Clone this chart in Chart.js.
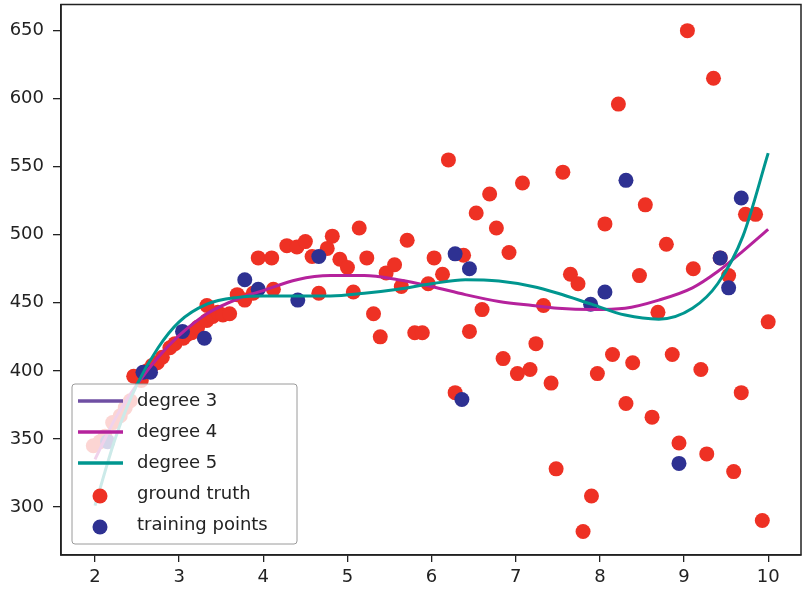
<!DOCTYPE html>
<html>
<head>
<meta charset="utf-8">
<script src="https://cdn.jsdelivr.net/npm/chart.js@4.4.1/dist/chart.umd.min.js"></script>
<style>
  body { margin: 0; background: #fff; }
  canvas { display: block; }
</style>
</head>
<body>
<canvas id="fitChart" width="804" height="592"></canvas>
<script>
// tick labels
const xTicks = [2, 3, 4, 5, 6, 7, 8, 9, 10];
const yTicks = [300, 350, 400, 450, 500, 550, 600, 650];

// ground truth (red)
const truthX = [1.98, 2.06, 2.12, 2.21, 2.3, 2.36, 2.42, 2.46, 2.55, 2.62, 2.68, 2.74, 2.8, 2.89, 2.95,
  3.05, 3.1, 3.15, 3.22, 3.33, 3.33, 3.4, 3.46, 3.52, 3.6, 3.69, 3.78, 3.88, 3.94, 4.1, 4.12, 4.28,
  4.4, 4.5, 4.58, 4.66, 4.76, 4.82, 4.91, 5.0, 5.07, 5.14, 5.23, 5.31, 5.39, 5.46, 5.56, 5.64, 5.71,
  5.8, 5.89, 5.96, 6.03, 6.13, 6.2, 6.28, 6.38, 6.45, 6.53, 6.6, 6.69, 6.77, 6.85, 6.92, 7.02, 7.08,
  7.17, 7.24, 7.33, 7.42, 7.48, 7.56, 7.65, 7.74, 7.8, 7.9, 7.97, 8.06, 8.15, 8.22, 8.31, 8.39, 8.47,
  8.54, 8.62, 8.69, 8.79, 8.86, 8.94, 9.04, 9.11, 9.2, 9.27, 9.35, 9.43, 9.53, 9.59, 9.68, 9.73, 9.85,
  9.93, 10.0];
const truthY = [345, 348, 352, 362, 367, 373, 378, 396, 393, 400, 404, 406, 410, 417, 420,
  424, 427, 428, 432, 437, 448, 440, 443, 441, 442, 456, 452, 457, 483, 483, 460, 492,
  491, 495, 484, 457, 490, 499, 482, 476, 458, 505, 483, 442, 425, 472, 478, 462, 496,
  428, 428, 464, 483, 471, 555, 384, 485, 429, 516, 445, 530, 505, 409, 487, 398, 538,
  401, 420, 448, 391, 328, 546, 471, 464, 282, 308, 398, 508, 412, 596, 376, 406, 470,
  522, 366, 443, 493, 412, 347, 650, 475, 401, 339, 615, 483, 470, 326, 384, 515, 515,
  290, 436];

// training points (blue)
const trainX = [2.15, 2.57, 2.66, 3.04, 3.3, 3.78, 3.94, 4.41, 4.66, 6.28, 6.36, 6.45, 7.89, 8.06, 8.31, 8.94, 9.43, 9.53, 9.68];
const trainY = [348, 399, 399, 429, 424, 467, 460, 452, 484, 486, 379, 475, 449, 458, 540, 332, 483, 461, 527];

// fitted curves
const curveX = [2.0, 2.25, 2.5, 2.75, 3.0, 3.33, 3.7, 4.0, 4.4, 4.8, 5.2, 5.6, 6.0, 6.4, 6.8, 7.2, 7.5, 7.9, 8.3, 8.7, 9.1, 9.4, 9.7, 10.0];
const deg3Y = []; // no purple curve is visible in the picture
const deg4Y = [335, 366, 390, 410, 426, 442, 453, 459, 467, 470, 470, 467, 462, 456, 451, 448, 446, 445, 446, 452, 461, 473, 488, 504];
const deg5Y = [301, 352, 390, 417, 436, 449, 454, 455, 455, 455, 457, 460, 464, 467, 466, 462, 457, 449, 441, 438, 446, 464, 499, 560];

const FONT = "'DejaVu Sans', sans-serif";
const INK = '#222';

function pts(xs, ys) {
  return ys.map((y, i) => ({ x: xs[i], y: y }));
}

// matplotlib style box + legend in lower left
const frameAndLegend = {
  id: 'frameAndLegend',
  afterDraw(chart) {
    const ctx = chart.ctx;
    const ca = chart.chartArea;
    ctx.save();
    ctx.strokeStyle = INK;
    ctx.lineWidth = 1.5;
    ctx.strokeRect(ca.left, ca.top, ca.right - ca.left, ca.bottom - ca.top);

    const w = 225, h = 160;
    const x0 = ca.left + 11, y0 = ca.bottom - 11 - h;
    ctx.beginPath();
    ctx.roundRect(x0, y0, w, h, 3);
    ctx.fillStyle = 'rgba(255,255,255,0.8)';
    ctx.fill();
    ctx.strokeStyle = '#9a9a9a';
    ctx.lineWidth = 1;
    ctx.stroke();

    ctx.font = '18px ' + FONT;
    ctx.textBaseline = 'middle';
    ctx.textAlign = 'left';
    chart.data.datasets.forEach((ds, i) => {
      const cy = y0 + 17 + i * 31;
      if (ds.showLine) {
        ctx.strokeStyle = ds.borderColor;
        ctx.lineWidth = 3.5;
        ctx.beginPath();
        ctx.moveTo(x0 + 6, cy);
        ctx.lineTo(x0 + 51, cy);
        ctx.stroke();
      } else {
        ctx.fillStyle = ds.backgroundColor;
        ctx.beginPath();
        ctx.arc(x0 + 28, cy + 2, 7.5, 0, Math.PI * 2);
        ctx.fill();
      }
      ctx.fillStyle = INK;
      ctx.fillText(ds.label, x0 + 65, cy);
    });
    ctx.restore();
  }
};

const lineStyle = { showLine: true, borderWidth: 3, pointRadius: 0, cubicInterpolationMode: 'monotone' };

new Chart(document.getElementById('fitChart'), {
  type: 'scatter',
  data: {
    datasets: [
      { ...lineStyle, label: 'degree 3', data: pts(curveX, deg3Y), borderColor: '#6f4fa3', order: 2 },
      { ...lineStyle, label: 'degree 4', data: pts(curveX, deg4Y), borderColor: '#b5229c', order: 1 },
      { ...lineStyle, label: 'degree 5', data: pts(curveX, deg5Y), borderColor: '#00968f', order: 0 },
      { label: 'ground truth', data: pts(truthX, truthY), showLine: false, backgroundColor: '#ee3124', borderWidth: 0, pointRadius: 7.5, order: 4 },
      { label: 'training points', data: pts(trainX, trainY), showLine: false, backgroundColor: '#2e3192', borderWidth: 0, pointRadius: 7.5, order: 3 }
    ]
  },
  options: {
    responsive: false,
    animation: false,
    layout: { autoPadding: false, padding: { left: 9, top: 4.5, right: 3, bottom: 0 } },
    plugins: {
      legend: { display: false },
      tooltip: { enabled: false }
    },
    scales: {
      x: {
        type: 'linear',
        min: 1.596,
        max: 10.39,
        afterBuildTicks: s => { s.ticks = xTicks.map(v => ({ value: v })); },
        afterFit: s => { s.height = 37; s.paddingLeft = 0; s.paddingRight = 0; },
        ticks: { color: INK, font: { family: FONT, size: 18 }, padding: 5, maxRotation: 0 },
        grid: { display: true, drawOnChartArea: false, drawTicks: true, tickLength: 7, color: INK, lineWidth: 1.3 },
        border: { display: true, color: INK, width: 1.5 }
      },
      y: {
        type: 'linear',
        min: 264.7,
        max: 669.2,
        afterBuildTicks: s => { s.ticks = yTicks.map(v => ({ value: v })); },
        afterFit: s => { s.width = 52; s.paddingTop = 0; s.paddingBottom = 0; },
        ticks: { color: INK, font: { family: FONT, size: 18 }, padding: 9 },
        grid: { display: true, drawOnChartArea: false, drawTicks: true, tickLength: 8, color: INK, lineWidth: 1.3 },
        border: { display: true, color: INK, width: 1.5 }
      }
    }
  },
  plugins: [frameAndLegend]
});
</script>
</body>
</html>
